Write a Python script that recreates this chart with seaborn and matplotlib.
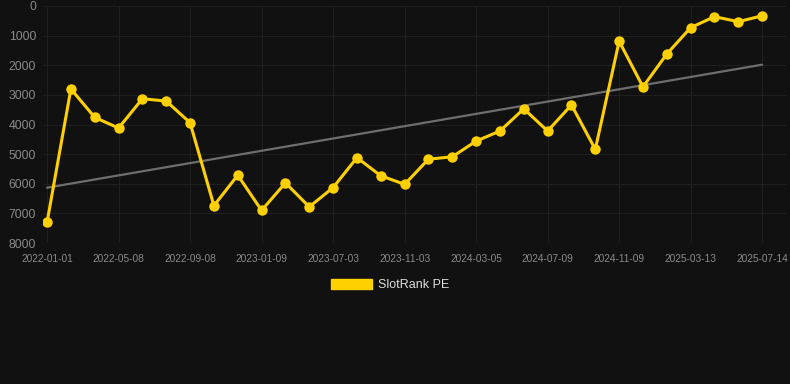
import matplotlib
matplotlib.use("Agg")
import matplotlib.pyplot as plt
from matplotlib.patches import Patch
import numpy as np
import pandas as pd
import seaborn as sns

# SlotRank PE rank over time (lower number = better, axis inverted)
RANKS = [7300, 2800, 3760, 4120, 3130, 3210, 3940, 6740, 5710, 6900, 5970,
         6780, 6130, 5120, 5730, 6020, 5170, 5090, 4560, 4220, 3470, 4220,
         3340, 4840, 1190, 2730, 1620, 730, 360, 530, 330]
# labelled dates, one for every third point
TICK_LABELS = ["2022-01-01", "2022-05-08", "2022-09-08", "2023-01-09",
               "2023-07-03", "2023-11-03", "2024-03-05", "2024-07-09",
               "2024-11-09", "2025-03-13", "2025-07-14"]
Y_TICKS = [0, 1000, 2000, 3000, 4000, 5000, 6000, 7000, 8000]

BG = "#111111"
YELLOW = "#ffd000"

df = pd.DataFrame({"idx": np.arange(len(RANKS)), "rank": RANKS})

sns.set_theme(style="dark")
plt.rcParams["font.family"] = ["Liberation Sans", "DejaVu Sans"]

fig = plt.figure(figsize=(7.9, 3.84), dpi=100, facecolor=BG)
ax = fig.add_axes([43 / 790, 1 - 243 / 384, (786 - 43) / 790, (243 - 6) / 384])
ax.set_facecolor(BG)

# linear trend across the whole series
sns.regplot(data=df, x="idx", y="rank", scatter=False, ci=None, truncate=True,
            color="#6e6e6e", line_kws={"lw": 1.6}, ax=ax)
sns.lineplot(data=df, x="idx", y="rank", color=YELLOW, lw=2.2, marker="o",
             markersize=7.5, markeredgewidth=0, ax=ax)

ax.set_xlim(-0.17, 31.0)
ax.set_ylim(8000, 0)
ax.set_xticks(np.arange(0, len(RANKS), 3))
ax.set_xticklabels(TICK_LABELS)
ax.set_yticks(Y_TICKS)
ax.set_yticklabels([str(v) for v in Y_TICKS])
ax.tick_params(axis="x", labelsize=7.3, colors="#8a8a8a", length=0, pad=8)
ax.tick_params(axis="y", labelsize=8.8, colors="#8a8a8a", length=0, pad=5)
ax.grid(True, color="#1f1f1f", lw=0.8)
ax.set_xlabel("")
ax.set_ylabel("")
for s in ax.spines.values():
    s.set_visible(False)

fig.legend(handles=[Patch(color=YELLOW, label="SlotRank PE")],
           loc="center", bbox_to_anchor=(390 / 790, 1 - 285 / 384),
           frameon=False, fontsize=9, labelcolor="#dddddd",
           handlelength=3.3, handleheight=0.9, handletextpad=0.5)

fig.savefig("out.png", facecolor=BG)
